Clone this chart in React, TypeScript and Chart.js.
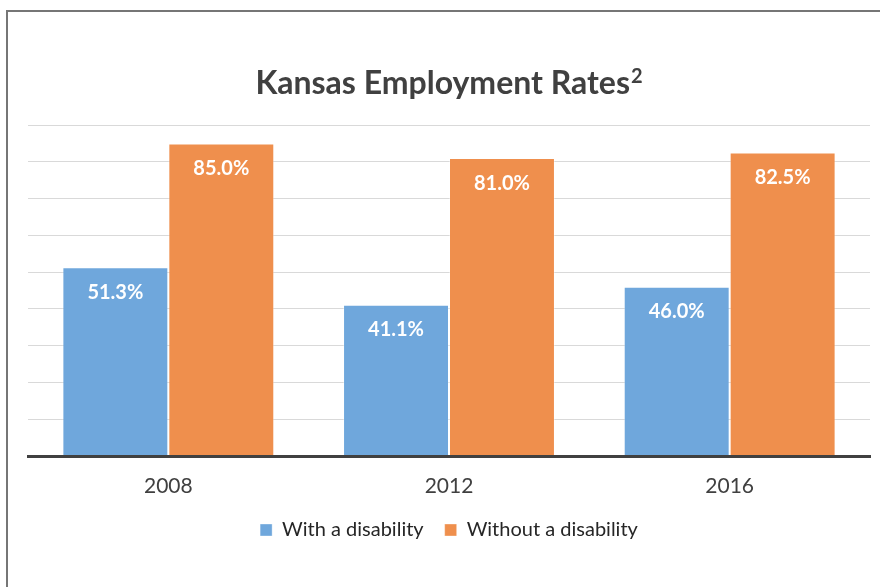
import React, { useEffect, useRef } from "react";
import { Chart, registerables } from "chart.js";

Chart.register(...registerables);

const categories = ["2008", "2012", "2016"];
const seriesNames = ["With a disability", "Without a disability"];
const withDisability = [51.3, 41.1, 46.0];
const withoutDisability = [85.0, 81.0, 82.5];
const yMin = 0;
const yMax = 90;
const yStep = 10;
const titleMain = "Kansas Employment Rates";
const titleSup = "2";

const FONT = "Lato";

const framePlugin = {
  id: "frame",
  beforeDraw(chart: any) {
    const ctx = chart.ctx;
    ctx.save();
    ctx.fillStyle = "#ffffff";
    ctx.fillRect(0, 0, chart.width, chart.height);
    ctx.strokeStyle = "#767676";
    ctx.lineWidth = 2;
    ctx.strokeRect(7, 11, chart.width + 20, chart.height + 20);
    ctx.restore();
  },
};

const titlePlugin = {
  id: "supTitle",
  afterDraw(chart: any) {
    const ctx = chart.ctx;
    const ca = chart.chartArea;
    ctx.save();
    const mainFont = `bold 32px ${FONT}`;
    const supFont = `bold 20px ${FONT}`;
    ctx.font = mainFont;
    const w1 = ctx.measureText(titleMain).width;
    ctx.font = supFont;
    const w2 = ctx.measureText(titleSup).width;
    const total = w1 + 1 + w2;
    const cx = (ca.left + ca.right) / 2;
    const x0 = cx - total / 2;
    const baseY = 94;
    ctx.fillStyle = "#404040";
    ctx.textBaseline = "alphabetic";
    ctx.textAlign = "left";
    ctx.font = mainFont;
    ctx.fillText(titleMain, x0, baseY);
    ctx.font = supFont;
    ctx.fillText(titleSup, x0 + w1 + 1, baseY - 11);
    ctx.restore();
  },
};

const labelPlugin = {
  id: "barLabels",
  afterDatasetsDraw(chart: any) {
    const ctx = chart.ctx;
    ctx.save();
    ctx.font = `bold 20px ${FONT}`;
    ctx.fillStyle = "#ffffff";
    ctx.textAlign = "center";
    ctx.textBaseline = "middle";
    chart.data.datasets.forEach((ds: any, di: number) => {
      const meta = chart.getDatasetMeta(di);
      meta.data.forEach((bar: any, i: number) => {
        const v = ds.data[i] as number;
        ctx.fillText(v.toFixed(1) + "%", bar.x, bar.y + 25);
      });
    });
    ctx.restore();
  },
};

export default function App() {
  const ref = useRef<HTMLCanvasElement | null>(null);
  useEffect(() => {
    document.body.style.margin = "0";
    const canvas = ref.current;
    if (!canvas) return;
    const chart = new Chart(canvas, {
      type: "bar",
      data: {
        labels: categories,
        datasets: [
          {
            label: seriesNames[0],
            data: withDisability,
            backgroundColor: "#6FA7DC",
            borderColor: "rgba(255,255,255,0.35)",
            borderWidth: 1,
            categoryPercentage: 0.755,
            barPercentage: 1,
          },
          {
            label: seriesNames[1],
            data: withoutDisability,
            backgroundColor: "#EF8F4D",
            borderColor: "rgba(255,255,255,0.35)",
            borderWidth: 1,
            categoryPercentage: 0.755,
            barPercentage: 1,
          },
        ],
      },
      options: {
        responsive: false,
        animation: false,
        devicePixelRatio: 1,
        layout: { padding: { left: 28, right: 10, top: 125, bottom: 37 } },
        plugins: {
          title: { display: false },
          tooltip: { enabled: false },
          legend: {
            display: true,
            position: "bottom",
            labels: {
              boxWidth: 12,
              boxHeight: 12,
              padding: 21,
              color: "#262626",
              font: { family: FONT, size: 20 },
            },
          },
        },
        scales: {
          x: {
            grid: { display: false, drawTicks: false, z: 1 },
            border: { display: true, color: "#404040", width: 3, z: 1 },
            ticks: {
              color: "#404040",
              font: { family: FONT, size: 21 },
              padding: 18,
            },
            afterFit: (scale: any) => {
              scale.height = 43;
            },
          },
          y: {
            min: yMin,
            max: yMax,
            ticks: { display: false, stepSize: yStep },
            grid: { color: "#D9D9D9", lineWidth: 1, drawTicks: false },
            border: { display: false },
          },
        },
      },
      plugins: [framePlugin, titlePlugin, labelPlugin],
    });
    return () => chart.destroy();
  }, []);
  return (
    <div style={{ position: "absolute", left: 0, top: 0, width: 880, height: 587 }}>
      <canvas ref={ref} width={880} height={587} style={{ display: "block" }} />
    </div>
  );
}
